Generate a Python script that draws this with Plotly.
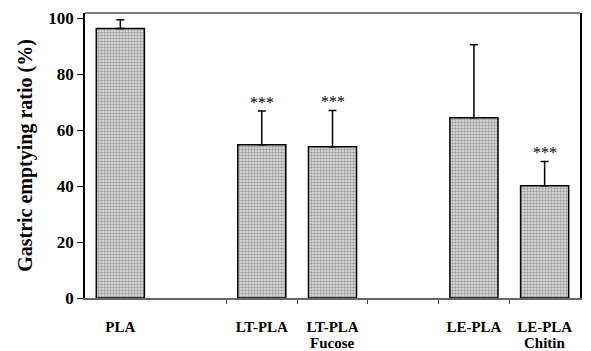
import plotly.graph_objects as go

categories = ["PLA", "LT-PLA", "LT-PLA", "LE-PLA", "LE-PLA"]
sublabels = ["", "", "Fucose", "", "Chitin"]
positions = [0, 2, 3, 5, 6]
values = [96.3, 54.7, 54.0, 64.4, 40.1]
errors = [3.1, 12.1, 13.0, 26.1, 8.7]
significance = ["", "***", "***", "", "***"]
y_ticks = [0, 20, 40, 60, 80, 100]
boundary_ticks = [1.5, 2.5, 3.5, 4.5, 5.5]

serif = "Liberation Serif, Times New Roman, serif"

fig = go.Figure()
fig.add_trace(go.Bar(
    x=positions, y=values, width=0.68,
    marker=dict(color="#c8c8c8",
                line=dict(color="black", width=1.5),
                pattern=dict(shape=".", fgcolor="#555555", bgcolor="#e4e4e4",
                             size=3, solidity=0.5)),
    error_y=dict(type="data", array=errors, arrayminus=[0]*len(errors),
                 symmetric=False, color="black", thickness=1.5, width=4),
    showlegend=False,
))

annotations = []
for p, v, e, s in zip(positions, values, errors, significance):
    if s:
        annotations.append(dict(x=p, y=v + e, xref="x", yref="y", text=s,
                                showarrow=False, yanchor="bottom", yshift=-2,
                                font=dict(family=serif, size=16, color="#000000")))
for p, s in zip(positions, sublabels):
    if s:
        annotations.append(dict(x=p, y=0, xref="x", yref="paper", text="<b>" + s + "</b>",
                                showarrow=False, yanchor="middle", yshift=-45,
                                font=dict(family=serif, size=15, color="black")))

fig.update_layout(
    width=591, height=351,
    margin=dict(l=85, r=9, t=12, b=53),
    paper_bgcolor="white", plot_bgcolor="white",
    font=dict(family=serif, color="black"),
    annotations=annotations,
    shapes=[dict(type="line", xref="paper", yref="paper", x0=0, x1=1, y0=1, y1=1,
                 line=dict(color="black", width=1))],
    xaxis=dict(range=[-0.5, 6.5], tickvals=positions,
               ticktext=["<b>" + c + "</b>" for c in categories],
               tickfont=dict(family=serif, size=15, color="black"),
               ticks="", ticklabelstandoff=14,
               showline=True, linecolor="#666666", linewidth=1.5,
               showgrid=False, zeroline=False,
               minor=dict(tickvals=boundary_ticks, ticks="outside", ticklen=4,
                          tickcolor="#444444", tickwidth=1)),
    yaxis=dict(range=[0, 101.8], tickvals=y_ticks,
               ticktext=["<b>%d</b>" % t for t in y_ticks],
               tickfont=dict(family=serif, size=17, color="black"),
               ticks="outside", ticklen=6, tickcolor="black",
               showline=True, linecolor="black", linewidth=1.5, mirror=True,
               showgrid=False, zeroline=False,
               title=dict(text="<b>Gastric emptying ratio (%)</b>",
                          font=dict(family=serif, size=20, color="black"),
                          standoff=10)),
)

fig.write_html("out.html")
